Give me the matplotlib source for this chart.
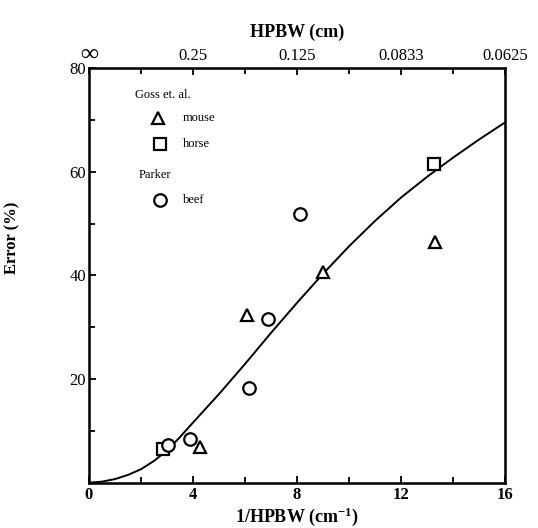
import matplotlib
matplotlib.use('Agg')
import matplotlib.pyplot as plt
from matplotlib.ticker import MultipleLocator

plt.rcParams['font.family'] = ['Liberation Serif', 'DejaVu Serif']
plt.rcParams['mathtext.default'] = 'regular'

# ---- data ----
mouse_x = [4.27, 6.07, 9.01, 13.3]
mouse_y = [6.9, 32.4, 40.6, 46.5]
horse_x = [2.85, 13.28]
horse_y = [6.5, 61.5]
beef_x = [3.05, 3.88, 6.17, 6.9, 8.12]
beef_y = [7.3, 8.4, 18.3, 31.6, 51.9]

curve_x = [0, 0.5, 1, 1.5, 2, 2.5, 3, 3.5, 4, 5, 6, 7, 8, 9, 10, 11, 12, 13, 14, 15, 16]
curve_y = [0, 0.2, 0.7, 1.5, 2.6, 4.2, 6.2, 8.8, 11.6, 17.1, 22.9, 28.9, 34.7, 40.3, 45.6,
           50.5, 55.0, 59.0, 62.7, 66.2, 69.5]

top_ticks = [4, 8, 12, 16]
top_labels = ['0.25', '0.125', '0.0833', '0.0625']

fig = plt.figure(figsize=(5.38, 5.28), dpi=100)
ax = fig.add_axes([0.1654, 0.0858, 0.7733, 0.7854])

ax.plot(curve_x, curve_y, color='black', lw=1.4, zorder=2)
mk = dict(mfc='white', mec='black', mew=1.6, ls='none', zorder=3)
ax.plot(mouse_x, mouse_y, marker='^', ms=9, **mk)
ax.plot(horse_x, horse_y, marker='s', ms=9, **mk)
ax.plot(beef_x, beef_y, marker='o', ms=9, **mk)

ax.set_xlim(0, 16)
ax.set_ylim(0, 80)
ax.xaxis.set_minor_locator(MultipleLocator(2))
ax.yaxis.set_minor_locator(MultipleLocator(10))
ax.set_xticks([0, 4, 8, 12, 16])
ax.set_xticklabels(['0', '4', '8', '12', '16'], fontweight='bold')
ax.set_yticks([20, 40, 60, 80])
ax.set_yticklabels(['20', '40', '60', '80'])
ax.tick_params(which='both', direction='in', width=1.3, labelsize=12)
ax.tick_params(which='major', length=5)
ax.tick_params(which='minor', length=4)
ax.tick_params(axis='x', pad=3)
ax.tick_params(axis='y', pad=2)
for s in ax.spines.values():
    s.set_linewidth(1.8)

ax.set_xlabel('1/HPBW (cm$^{-1}$)', fontsize=13, fontweight='bold', labelpad=2)
ax.set_ylabel('Error (%)', fontsize=12, fontweight='bold')
ax.yaxis.set_label_coords(-0.165, 0.59)

top = ax.twiny()
top.set_xlim(0, 16)
top.set_xticks(top_ticks)
top.set_xticklabels(top_labels)
top.xaxis.set_minor_locator(MultipleLocator(2))
top.tick_params(which='both', direction='in', width=1.3, labelsize=12, pad=3)
top.tick_params(which='major', length=5)
top.tick_params(which='minor', length=4)
top.set_xlabel('HPBW (cm)', fontsize=13, fontweight='bold', labelpad=8)
ax.text(0, 80.5, '∞', fontsize=18, fontweight='bold', ha='center', va='bottom')

# legend drawn by hand as in the original
lfs = 9
ax.text(1.77, 74.8, 'Goss et. al.', fontsize=lfs, va='center', ha='left')
ax.plot([2.67], [70.3], marker='^', ms=9, **mk)
ax.text(3.6, 70.3, 'mouse', fontsize=lfs, va='center', ha='left')
ax.plot([2.73], [65.4], marker='s', ms=9, **mk)
ax.text(3.6, 65.4, 'horse', fontsize=lfs, va='center', ha='left')
ax.text(1.9, 59.4, 'Parker', fontsize=lfs, va='center', ha='left')
ax.plot([2.73], [54.6], marker='o', ms=9, **mk)
ax.text(3.6, 54.6, 'beef', fontsize=lfs, va='center', ha='left')

fig.savefig('out.png', dpi=100, facecolor='white')
